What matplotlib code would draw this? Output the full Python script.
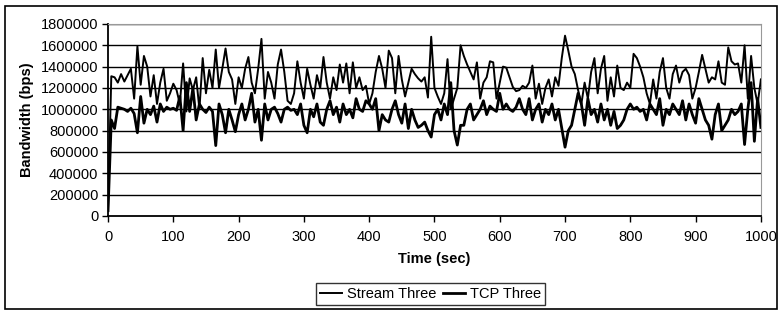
import matplotlib
matplotlib.use("Agg")
import matplotlib.pyplot as plt
import numpy as np
from matplotlib.patches import Rectangle

plt.rcParams['font.family'] = ['Liberation Sans', 'DejaVu Sans']

time_sec = list(range(0, 1001, 5))

stream_three_k = [
    80, 1310, 1300, 1250, 1330, 1260, 1320, 1380, 1100, 1590,
    1230, 1500, 1400, 1120, 1320, 1050, 1250, 1380, 1080, 1150,
    1240, 1180, 1050, 1430, 980, 1290, 1180, 1300, 1000, 1480,
    1150, 1370, 1200, 1560, 1200, 1380, 1570, 1350, 1280, 1050,
    1300, 1200, 1380, 1490, 1250, 1150, 1380, 1660, 1100, 1350,
    1250, 1100, 1420, 1560, 1350, 1080, 1050, 1150, 1450, 1250,
    1100, 1380, 1230, 1100, 1320, 1200, 1490, 1250, 1100, 1300,
    1180, 1420, 1250, 1430, 1150, 1440, 1200, 1300, 1180, 1220,
    1050, 1150, 1350, 1500, 1380, 1200, 1550, 1480, 1150, 1500,
    1280, 1120, 1250, 1380, 1330, 1290, 1260, 1300, 1110, 1680,
    1200, 1120, 1050, 1150, 1470, 1000, 1100, 1200, 1600, 1500,
    1420, 1350, 1280, 1440, 1100, 1250, 1300, 1450, 1440, 1100,
    1250, 1400, 1390, 1300, 1210, 1170, 1180, 1220, 1200, 1250,
    1410, 1100, 1240, 1050, 1200, 1280, 1120, 1300, 1220, 1480,
    1690, 1550, 1400, 1330, 1180, 1050, 1250, 1100, 1350, 1480,
    1150, 1380, 1500, 1080, 1300, 1120, 1410, 1200, 1180, 1250,
    1200, 1520, 1480, 1400, 1300, 1150, 1050, 1280, 1100, 1350,
    1480, 1200, 1100, 1330, 1410, 1250, 1350, 1380, 1320, 1100,
    1200, 1350, 1510, 1380, 1250, 1300, 1280, 1450, 1250, 1230,
    1580, 1450, 1420, 1430, 1250, 1600, 1100, 1500, 1200, 1050,
    1280,
]

tcp_three_k = [
    50, 900, 820, 1020, 1010, 1000, 980, 1010, 960, 780,
    1120, 870, 1000, 950, 1030, 880, 1050, 980, 1020, 1000,
    1010, 990, 1120, 800, 1250, 980, 1200, 900, 1050, 1000,
    970, 1020, 980, 660, 1050, 950, 780, 1000, 900, 790,
    950, 1050, 900, 1000, 1150, 880, 1000, 710, 1050, 900,
    1000, 1020, 960, 880, 1000, 1020, 990, 1000, 950, 1050,
    850, 780, 1000, 930, 1050, 880, 850, 1000, 1080, 950,
    1020, 880, 1050, 950, 1000, 920, 1100, 1000, 980, 1080,
    1050, 1000, 1100, 800, 950, 900, 880, 1000, 1080, 950,
    870, 1050, 820, 1000, 900, 830, 850, 880, 800, 740,
    950, 1000, 900, 1050, 950, 1250, 800, 665, 850, 850,
    1000, 1050, 900, 950, 1000, 1080, 950, 1030, 1000, 980,
    1150, 1000, 1050, 1000, 980, 1020, 1100, 1000, 950, 1100,
    900, 1000, 1050, 880, 1000, 950, 1050, 900, 1000, 820,
    645, 800, 850, 1000, 1150, 1050, 850, 1100, 950, 1000,
    880, 1050, 900, 1000, 850, 980, 820, 850, 900, 1000,
    1050, 1000, 1020, 980, 1000, 900, 1050, 1000, 950, 1100,
    850, 1000, 950, 1050, 1000, 950, 1080, 900, 1050, 950,
    870, 1100, 1000, 900, 850, 720, 950, 1050, 800, 850,
    900, 1000, 950, 980, 1050, 670, 1000, 1250, 700, 1100,
    830,
]

y_ticks = [0, 200000, 400000, 600000, 800000, 1000000, 1200000, 1400000, 1600000, 1800000]
x_ticks = [0, 100, 200, 300, 400, 500, 600, 700, 800, 900, 1000]

stream = np.array(stream_three_k) * 1000
tcp = np.array(tcp_three_k) * 1000

fig = plt.figure(figsize=(7.8, 3.11), dpi=100)
ax = fig.add_axes([0.1385, 0.3055, 0.837, 0.6175])

for yv in y_ticks[1:]:
    ax.axhline(yv, color='black', lw=1.0, zorder=1)

ax.plot(time_sec, stream, color='black', lw=1.4, label='Stream Three', zorder=3)
ax.plot(time_sec, tcp, color='black', lw=2.0, label='TCP Three', zorder=3)

ax.set_xlim(0, 1000)
ax.set_ylim(0, 1800000)
ax.set_xticks(x_ticks)
ax.set_yticks(y_ticks)
ax.set_yticklabels([str(v) for v in y_ticks])
ax.tick_params(axis='both', labelsize=10.5, direction='out', length=4, width=1, color='black')
ax.tick_params(axis='x', pad=6)
ax.tick_params(axis='y', pad=3)

ax.spines['left'].set_color('black')
ax.spines['left'].set_linewidth(1.3)
ax.spines['bottom'].set_color('black')
ax.spines['bottom'].set_linewidth(1.3)
ax.spines['top'].set_color('#999999')
ax.spines['right'].set_color('#999999')

ax.set_xlabel('Time (sec)', fontsize=10.5, fontweight='bold', labelpad=6)
ax.set_ylabel('Bandwidth (bps)', fontsize=10.5, fontweight='bold', labelpad=5)

leg = fig.legend(loc='center', bbox_to_anchor=(0.552, 0.055), ncol=2, fontsize=10.5,
                 frameon=True, fancybox=False, edgecolor='black', handlelength=1.5,
                 handletextpad=0.3, columnspacing=0.5, borderpad=0.3)
leg.get_frame().set_linewidth(1.0)

fig.patches.append(Rectangle((0.006, 0.005), 0.99, 0.975, transform=fig.transFigure,
                             fill=False, edgecolor='black', lw=1.2))

fig.savefig('out.png', dpi=100)
